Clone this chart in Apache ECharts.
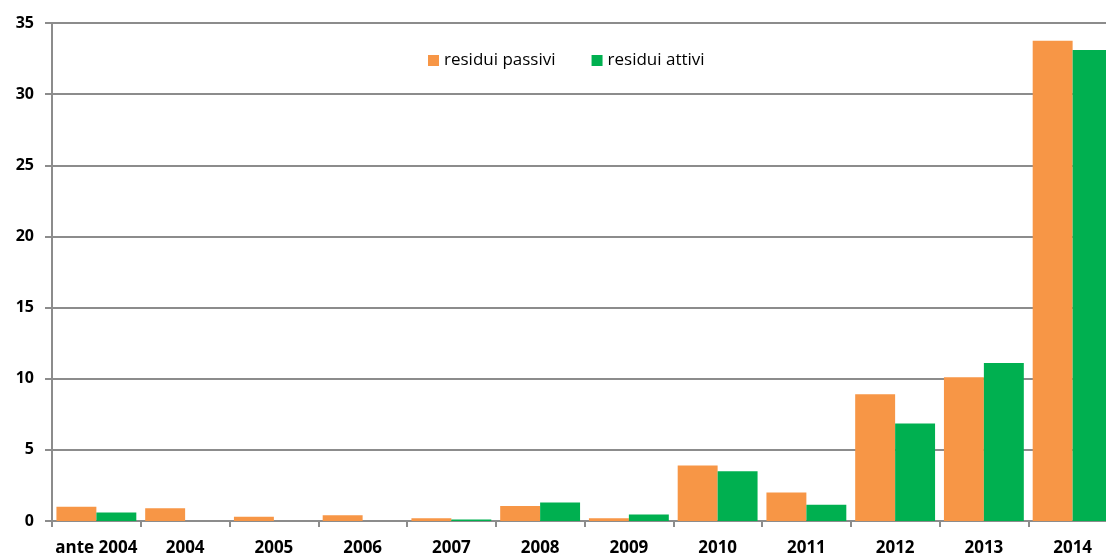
<!DOCTYPE html>
<html>
<head>
<meta charset="utf-8">
<script src="https://cdn.jsdelivr.net/npm/echarts@6/dist/echarts.min.js"></script>
<style>
  html, body { margin: 0; padding: 0; background: #fff; }
  #chart { width: 1106px; height: 557px; }
</style>
</head>
<body>
<div id="chart"></div>
<script>
// dati
var categories = ['ante 2004', '2004', '2005', '2006', '2007', '2008', '2009', '2010', '2011', '2012', '2013', '2014'];
var residuiPassivi = [1.0, 0.9, 0.3, 0.4, 0.2, 1.05, 0.2, 3.9, 2.0, 8.9, 10.1, 33.75];
var residuiAttivi = [0.6, 0, 0, 0, 0.1, 1.3, 0.45, 3.5, 1.15, 6.85, 11.1, 33.1];
var yTicks = [0, 5, 10, 15, 20, 25, 30, 35];

var font = '"Open Sans", "DejaVu Sans", sans-serif';
var gridColor = '#8c8c8c';

var chart = echarts.init(document.getElementById('chart'));
chart.setOption({
  backgroundColor: '#fff',
  animation: false,
  textStyle: { fontFamily: font },
  legend: {
    top: 47,
    left: 423,
    itemWidth: 11,
    itemHeight: 11,
    itemGap: 36,
    icon: 'rect',
    textStyle: { fontSize: 17, color: '#000', fontFamily: font },
    data: ['residui passivi', 'residui attivi']
  },
  grid: {
    left: 52,
    top: 23,
    width: 1065,
    height: 498,
    outerBoundsMode: 'none',
    containLabel: false
  },
  xAxis: {
    type: 'category',
    data: categories,
    axisLine: { lineStyle: { color: gridColor, width: 2 } },
    axisTick: { show: true, length: 6, lineStyle: { color: gridColor, width: 2 } },
    axisLabel: { color: '#000', fontWeight: 'bold', fontSize: 17, margin: 19, fontFamily: font, interval: 0 }
  },
  yAxis: {
    type: 'value',
    min: yTicks[0],
    max: yTicks[yTicks.length - 1],
    interval: 5,
    axisLine: { show: true, lineStyle: { color: gridColor, width: 2 } },
    axisTick: { show: true, length: 7, lineStyle: { color: gridColor, width: 2 } },
    splitLine: { lineStyle: { color: gridColor, width: 2 } },
    axisLabel: { color: '#000', fontWeight: 'bold', fontSize: 16, margin: 18, fontFamily: font }
  },
  series: [
    {
      name: 'residui passivi',
      type: 'bar',
      data: residuiPassivi,
      barGap: '0%',
      barCategoryGap: '10%',
      itemStyle: { color: '#F79646' }
    },
    {
      name: 'residui attivi',
      type: 'bar',
      data: residuiAttivi,
      barGap: '0%',
      barCategoryGap: '10%',
      itemStyle: { color: '#00B050' }
    }
  ]
});
</script>
</body>
</html>
